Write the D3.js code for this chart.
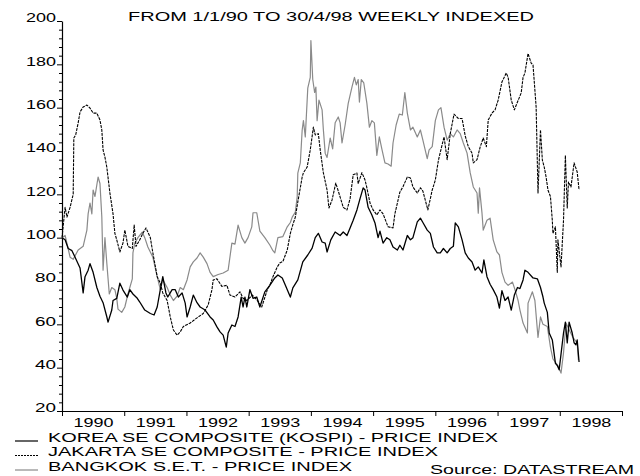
<!DOCTYPE html>
<html><head><meta charset="utf-8">
<script src="https://cdn.jsdelivr.net/npm/d3@7"></script>
<style>
html,body{margin:0;padding:0;background:#fff;}
svg{display:block;font-family:"Liberation Sans",Arial,sans-serif;}
</style></head>
<body><svg id="c" width="640" height="476"></svg>
<script>
// ---------- DATA (decimal year, index value) ----------
const titleText = "FROM 1/1/90 TO 30/4/98 WEEKLY INDEXED";
const yearLabels = [1990,1991,1992,1993,1994,1995,1996,1997,1998];
const yMajorTicks = [20,40,60,80,100,120,140,160,180,200];
const seriesNames = ["KOREA SE COMPOSITE (KOSPI) - PRICE INDEX","JAKARTA SE COMPOSITE - PRICE INDEX","BANGKOK S.E.T. - PRICE INDEX"];
const sourceText = "Source: DATASTREAM";

const korea = [
[1990.00,100],[1990.05,99],[1990.10,95],[1990.16,94],[1990.21,91],[1990.29,86],[1990.34,74.5],[1990.37,82],[1990.42,85],[1990.45,88],
[1990.50,84],[1990.56,77],[1990.61,73],[1990.66,70],[1990.72,63.5],[1990.74,61],[1990.80,66.6],[1990.82,71],[1990.88,72],[1990.93,79],
[1990.98,75.8],[1991.05,72.6],[1991.09,76],[1991.14,74],[1991.21,72],[1991.25,70.3],[1991.33,66.6],[1991.42,65],[1991.48,64.3],[1991.53,68],
[1991.58,76],[1991.62,82],[1991.67,74.5],[1991.70,72.6],[1991.77,76],[1991.82,76],[1991.87,72.6],[1991.93,74.5],[1991.98,69.8],[1992.01,63.4],
[1992.06,68],[1992.11,73.5],[1992.17,70],[1992.22,68],[1992.30,66.6],[1992.38,63.4],[1992.43,62],[1992.49,58.8],[1992.54,56.5],[1992.59,55],
[1992.64,49.5],[1992.67,56],[1992.73,59.7],[1992.78,59],[1992.83,63.4],[1992.88,72.6],[1992.91,68],[1992.94,72.6],[1992.97,68],[1993.02,76],
[1993.07,72],[1993.13,72.6],[1993.18,68],[1993.26,75],[1993.34,78],[1993.42,81.4],[1993.47,82.8],[1993.54,81.4],[1993.59,78],[1993.67,72.6],
[1993.71,76.8],[1993.79,80.5],[1993.87,88.8],[1993.95,92],[1994.02,95.2],[1994.07,100],[1994.12,102],[1994.18,98],[1994.23,97.5],[1994.26,93.4],
[1994.32,99],[1994.39,102.6],[1994.47,101],[1994.52,102.6],[1994.58,101],[1994.63,104.5],[1994.68,108],[1994.74,112.8],[1994.79,118],[1994.84,123],
[1994.87,122],[1994.92,114],[1994.98,110.5],[1995.03,106.8],[1995.08,100],[1995.11,103],[1995.16,97.5],[1995.22,100],[1995.27,99],[1995.32,95.7],
[1995.39,94.3],[1995.43,96.5],[1995.48,94.3],[1995.55,101],[1995.60,99],[1995.64,100],[1995.71,107.3],[1995.76,109],[1995.80,107],[1995.87,103.5],
[1995.92,102],[1995.97,95.7],[1996.03,93],[1996.08,93],[1996.13,95],[1996.19,93],[1996.24,95],[1996.29,96],[1996.32,106.8],[1996.37,105],
[1996.43,99],[1996.48,93],[1996.53,90.6],[1996.59,88.8],[1996.64,85],[1996.69,86.5],[1996.75,83.7],[1996.78,89.7],[1996.83,82],[1996.88,78.5],
[1996.93,76],[1996.99,72.6],[1997.03,67.5],[1997.07,75.5],[1997.12,71],[1997.17,72.6],[1997.22,66.6],[1997.27,73.5],[1997.32,77],[1997.36,76.5],
[1997.41,80.5],[1997.44,85],[1997.49,84],[1997.57,81.4],[1997.64,81],[1997.69,77],[1997.73,72.6],[1997.75,69.8],[1997.80,65.5],[1997.83,56],
[1997.88,52.8],[1997.93,42],[1997.96,41],[1997.99,39],[1998.06,56],[1998.09,61],[1998.12,51.4],[1998.15,61],[1998.20,56],[1998.23,51.5],
[1998.26,50.5],[1998.28,52.8],[1998.31,42.6]
];

const jakarta = [
[1990.00,100],[1990.05,114],[1990.08,109.5],[1990.13,114],[1990.18,120],[1990.19,146],[1990.22,147.4],[1990.26,153],[1990.29,158],[1990.34,160.3],
[1990.40,161.2],[1990.45,159.8],[1990.50,157.5],[1990.56,157.5],[1990.61,154.3],[1990.64,149.7],[1990.66,140.5],[1990.69,137.2],[1990.72,132.6],[1990.77,120.6],
[1990.82,111],[1990.85,102],[1990.88,99],[1990.93,93.4],[1990.98,97.5],[1991.01,103.5],[1991.06,96],[1991.13,95],[1991.16,105.8],[1991.19,96],
[1991.25,99],[1991.30,102],[1991.35,104.5],[1991.42,100],[1991.46,93],[1991.53,82],[1991.58,79],[1991.62,74.5],[1991.69,71],[1991.74,63.4],
[1991.79,57.4],[1991.85,55],[1991.90,56.5],[1991.95,59],[1992.06,60.6],[1992.17,63],[1992.27,65],[1992.35,69],[1992.41,76],[1992.43,80.5],
[1992.49,81],[1992.57,77.5],[1992.65,78],[1992.70,73.5],[1992.78,72.6],[1992.86,75],[1992.91,72],[1992.97,71],[1993.06,73.5],[1993.14,71],
[1993.21,68],[1993.30,76],[1993.34,78],[1993.39,82],[1993.46,86.5],[1993.50,88.3],[1993.55,89],[1993.62,94.3],[1993.67,102],[1993.71,106],
[1993.75,109.5],[1993.79,116.5],[1993.86,128],[1993.88,130],[1993.94,132.6],[1993.99,140.5],[1994.04,151],[1994.07,147.4],[1994.12,148],[1994.15,140.5],
[1994.20,130],[1994.26,122],[1994.29,113.7],[1994.34,117.4],[1994.40,125.2],[1994.45,120.6],[1994.52,114],[1994.58,112.8],[1994.63,118],[1994.68,129],
[1994.74,129.8],[1994.76,125],[1994.82,130],[1994.87,126.6],[1994.90,123],[1994.95,116],[1995.00,112.8],[1995.06,110.5],[1995.11,112.8],[1995.16,111],
[1995.24,105],[1995.32,104.5],[1995.35,111],[1995.39,116],[1995.43,121],[1995.48,123.5],[1995.55,128],[1995.60,127.5],[1995.64,123.4],[1995.71,120.6],
[1995.76,123],[1995.80,121.5],[1995.88,112.8],[1995.95,122],[1996.00,126.6],[1996.05,135.8],[1996.11,143],[1996.14,146.5],[1996.19,136],[1996.24,148],
[1996.30,157],[1996.37,155],[1996.43,155],[1996.48,147],[1996.53,142],[1996.59,139],[1996.61,134.5],[1996.67,136],[1996.72,141.8],[1996.77,146],
[1996.82,142],[1996.85,154.3],[1996.91,157.5],[1996.96,159],[1997.01,163.5],[1997.07,171.8],[1997.14,176],[1997.17,174],[1997.22,163.5],[1997.27,159],
[1997.32,162.6],[1997.38,166.8],[1997.41,174],[1997.44,176],[1997.49,185],[1997.54,180.6],[1997.57,179.7],[1997.62,160.3],[1997.65,120.6],[1997.69,149.7],
[1997.72,135.8],[1997.75,132.6],[1997.78,128],[1997.81,122],[1997.85,119],[1997.88,108],[1997.89,102],[1997.93,105],[1997.96,84],[1997.97,99],
[1998.02,86.5],[1998.06,108],[1998.09,138],[1998.12,113.7],[1998.14,125.7],[1998.18,123.4],[1998.23,134.5],[1998.28,130.3],[1998.31,122]
];

const bangkok = [
[1990.00,100],[1990.05,101],[1990.13,91],[1990.18,90],[1990.26,94.3],[1990.34,96],[1990.40,103.5],[1990.42,111],[1990.45,116],[1990.48,111],
[1990.50,122],[1990.53,119],[1990.58,128],[1990.61,125],[1990.64,109.5],[1990.66,85],[1990.69,100],[1990.72,88.3],[1990.76,74],[1990.80,77],
[1990.85,76],[1990.88,72],[1990.90,67],[1990.96,65.5],[1991.01,68],[1991.06,74],[1991.13,81],[1991.14,93],[1991.17,97.5],[1991.22,100],
[1991.29,102.6],[1991.33,100],[1991.38,95.7],[1991.46,91],[1991.53,82],[1991.58,76],[1991.62,80.5],[1991.69,77],[1991.74,73.5],[1991.79,71],
[1991.85,73],[1991.90,77],[1991.95,76],[1992.01,80.5],[1992.06,86.5],[1992.11,88.8],[1992.17,90.6],[1992.22,93],[1992.27,91],[1992.33,88],
[1992.38,84],[1992.43,82],[1992.51,83],[1992.59,83.7],[1992.67,85],[1992.73,97.5],[1992.78,97],[1992.83,105.8],[1992.89,100],[1992.94,97.5],
[1992.99,100],[1993.05,105],[1993.07,111.5],[1993.13,111.5],[1993.18,103],[1993.26,100],[1993.34,96.6],[1993.39,94],[1993.42,93],[1993.47,100],
[1993.55,100.5],[1993.62,105],[1993.67,107],[1993.70,109.5],[1993.75,111.8],[1993.78,118.8],[1993.79,129.8],[1993.83,134.5],[1993.86,149.7],[1993.88,154],
[1993.91,146.5],[1993.95,169],[1993.99,174],[1994.00,191],[1994.03,173],[1994.06,167],[1994.08,169.5],[1994.10,154],[1994.13,163.5],[1994.18,159],
[1994.20,150],[1994.23,139],[1994.26,137],[1994.31,146],[1994.35,141],[1994.39,153],[1994.44,155.7],[1994.47,153],[1994.50,143.7],[1994.55,152],
[1994.60,162],[1994.66,169.5],[1994.70,174],[1994.73,170.5],[1994.76,173],[1994.78,162.6],[1994.81,173],[1994.85,171.4],[1994.90,162],[1994.94,151],
[1994.98,154],[1995.02,153],[1995.06,138],[1995.10,146.5],[1995.14,141],[1995.19,134.5],[1995.24,134],[1995.29,133],[1995.32,143.7],[1995.37,152],
[1995.42,157],[1995.47,156.6],[1995.51,167],[1995.55,157.5],[1995.60,149.7],[1995.64,151],[1995.71,146.5],[1995.76,149.7],[1995.80,145],[1995.87,136.5],
[1995.90,140.5],[1995.95,142],[1996.00,154],[1996.05,159],[1996.09,160],[1996.14,151],[1996.19,145],[1996.24,148],[1996.29,146.5],[1996.35,149.7],
[1996.40,148],[1996.45,143.7],[1996.51,139],[1996.56,130],[1996.61,123.4],[1996.67,120.6],[1996.69,111.3],[1996.71,123],[1996.75,111.3],[1996.77,103.5],
[1996.83,108],[1996.88,109],[1996.93,99],[1996.99,93.4],[1997.03,92],[1997.07,84],[1997.12,79.5],[1997.17,78],[1997.24,79.5],[1997.28,76],
[1997.33,71],[1997.36,66.6],[1997.41,60.6],[1997.48,56],[1997.49,69.8],[1997.56,75],[1997.60,71],[1997.65,54],[1997.69,63.4],[1997.73,60],
[1997.80,59],[1997.85,49.5],[1997.89,44],[1997.97,41],[1998.02,37.5],[1998.06,46.8],[1998.10,60.6],[1998.15,57.5],[1998.21,54],[1998.28,51.4],
[1998.30,43.5]
];

// ---------- DRAWING ----------
const svg = d3.select("#c");
const x = d3.scaleLinear().domain([1990, 1999]).range([62, 622]);
const y = d3.scaleLinear().domain([20, 200]).range([411, 21]);
const FONT = 13.5;
const FF = "Liberation Sans, Arial, sans-serif";

// title
svg.append("text").attr("x", 128).attr("y", 21)
  .attr("font-size", 13.5).attr("textLength", 406).attr("lengthAdjust", "spacingAndGlyphs")
  .text(titleText);

// y axis: minor ticks
const yMinor = d3.range(20, 201, 4).filter(v => v % 20 !== 0);
svg.append("g").attr("transform", "translate(62,0)")
  .call(d3.axisLeft(y).tickValues(yMinor).tickSize(3).tickFormat(""))
  .call(g => g.select(".domain").remove())
  .selectAll("line").attr("stroke", "#000");
// y axis: major ticks + labels
const gy = svg.append("g").attr("transform", "translate(62,0)")
  .call(d3.axisLeft(y).tickValues(yMajorTicks).tickSize(5).tickSizeOuter(0).tickPadding(1));
gy.select(".domain").attr("stroke", "#000").attr("stroke-width", 1.2);
gy.selectAll("text").attr("dy", "0.05em").attr("font-size", FONT)
  .attr("font-family", FF).attr("fill", "#000")
  .attr("textLength", d => d >= 100 ? 30 : 21).attr("lengthAdjust", "spacingAndGlyphs");

// x axis ticks
const gx = svg.append("g").attr("transform", "translate(0,411)")
  .call(d3.axisBottom(x).tickValues(d3.range(1990, 2000)).tickSize(5).tickSizeOuter(0).tickFormat(""));
gx.select(".domain").attr("stroke", "#000").attr("stroke-width", 1.2);
// x year labels (centred in each year)
const gxl = svg.append("g").attr("transform", "translate(0,411)")
  .call(d3.axisBottom(x).tickValues(yearLabels.map(v => v + 0.5)).tickSize(0).tickPadding(6)
    .tickFormat(d => String(Math.floor(d))));
gxl.select(".domain").remove();
gxl.selectAll("text").attr("font-size", FONT).attr("font-family", FF)
  .attr("fill", "#000").attr("textLength", 40).attr("lengthAdjust", "spacingAndGlyphs");

// lines
const line = d3.line().x(d => x(d[0])).y(d => y(d[1]));
const styles = [
  {data: bangkok, stroke: "#8a8a8a", width: 1.2, dash: null},
  {data: korea, stroke: "#000", width: 1.3, dash: null},
  {data: jakarta, stroke: "#000", width: 1.1, dash: "3,1"}
];
styles.forEach(s => {
  svg.append("path").datum(s.data).attr("d", line)
    .attr("fill", "none").attr("stroke", s.stroke).attr("stroke-width", s.width)
    .attr("stroke-linejoin", "round").attr("stroke-dasharray", s.dash);
});

// legend
const legStyles = [
  {stroke: "#000", width: 1.2, dash: null, len: 450},
  {stroke: "#000", width: 1.1, dash: "2,1", len: 390},
  {stroke: "#8a8a8a", width: 1.2, dash: null, len: 304}
];
const legY = [441.5, 456, 470.5];
seriesNames.forEach((name, i) => {
  const s = legStyles[i];
  svg.append("line").attr("x1", 15).attr("x2", 38).attr("y1", legY[i] - 0.5).attr("y2", legY[i] - 0.5)
    .attr("stroke", s.stroke).attr("stroke-width", s.width).attr("stroke-dasharray", s.dash);
  svg.append("text").attr("x", 48).attr("y", legY[i]).attr("font-size", 12.5)
    .attr("textLength", s.len).attr("lengthAdjust", "spacingAndGlyphs").text(name);
});
svg.append("text").attr("x", 430).attr("y", 474).attr("font-size", 12.5)
  .attr("textLength", 204).attr("lengthAdjust", "spacingAndGlyphs").text(sourceText);
</script>
</body></html>
